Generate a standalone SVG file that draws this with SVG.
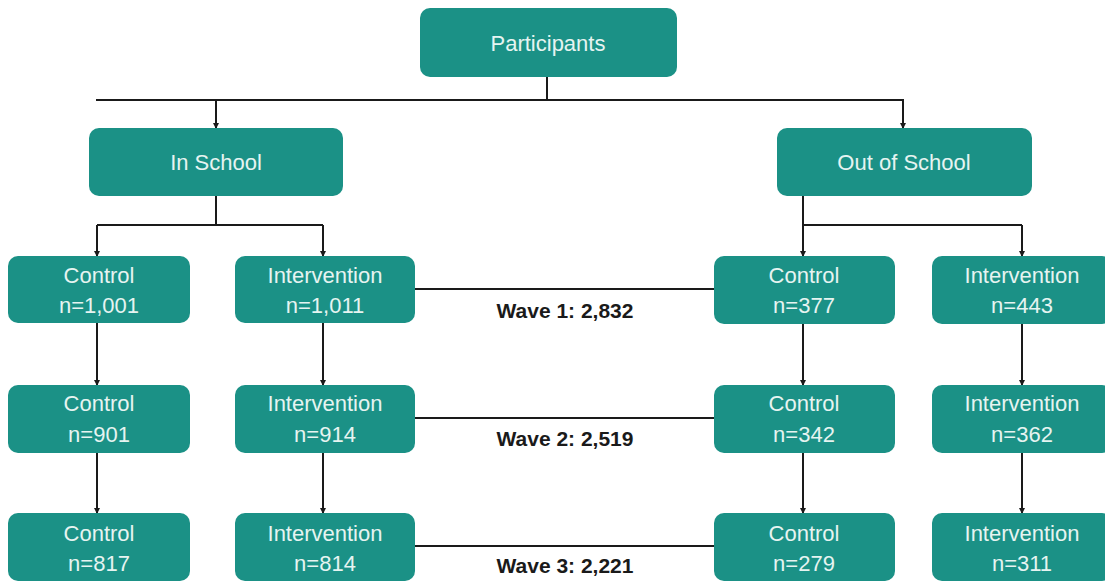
<svg xmlns="http://www.w3.org/2000/svg" width="1105" height="582" viewBox="0 0 1105 582">
<defs>
<style>
.box{fill:#1b9186;}
.t{font-family:"Liberation Sans",Arial,sans-serif;font-size:22px;fill:#e6f4f1;text-anchor:middle;dominant-baseline:central;}
.w{font-family:"Liberation Sans",Arial,sans-serif;font-size:21px;font-weight:bold;fill:#1a1a1a;text-anchor:middle;dominant-baseline:central;}
.c{fill:none;stroke:#1a1a1a;stroke-width:2;}
</style>
<marker id="ah" markerWidth="6" markerHeight="6" refX="5" refY="3" orient="auto" markerUnits="userSpaceOnUse">
<path d="M0,0 L6,3 L0,6 Z" fill="#1a1a1a"/>
</marker>
</defs>
<rect width="1105" height="582" fill="#ffffff"/>
<g id="connectors">
<path class="c" d="M547,77 V100"/>
<path class="c" d="M96,100 H904" />
<path class="c" d="M216,100 V128" marker-end="url(#ah)"/>
<path class="c" d="M903,100 V128" marker-end="url(#ah)"/>
<path class="c" d="M216,196 V225 M97,225 H323 M803,196 V225 M803,225 H1022"/>
<path class="c" d="M97,225 V256" marker-end="url(#ah)"/>
<path class="c" d="M323,225 V256" marker-end="url(#ah)"/>
<path class="c" d="M803,225 V256" marker-end="url(#ah)"/>
<path class="c" d="M1022,225 V256" marker-end="url(#ah)"/>
<path class="c" d="M97,323 V385" marker-end="url(#ah)"/>
<path class="c" d="M323,323 V385" marker-end="url(#ah)"/>
<path class="c" d="M803,324 V385" marker-end="url(#ah)"/>
<path class="c" d="M1022,324 V385" marker-end="url(#ah)"/>
<path class="c" d="M97,453 V513" marker-end="url(#ah)"/>
<path class="c" d="M323,453 V513" marker-end="url(#ah)"/>
<path class="c" d="M803,453 V513" marker-end="url(#ah)"/>
<path class="c" d="M1022,453 V513" marker-end="url(#ah)"/>
<path class="c" d="M415,289 H714 M415,418 H714 M415,546 H714"/>
</g>
<g id="participants"><rect class="box" x="420" y="8" width="257" height="69" rx="10"/><text class="t" x="548" y="43">Participants</text></g>
<g id="in-school"><rect class="box" x="89" y="128" width="254" height="68" rx="10"/><text class="t" x="216" y="162">In School</text></g>
<g id="out-of-school"><rect class="box" x="777" y="128" width="255" height="68" rx="10"/><text class="t" x="904" y="162">Out of School</text></g>

<g id="is-control-1"><rect class="box" x="8" y="256" width="182" height="67" rx="10"/><text class="t" x="99" y="275">Control</text><text class="t" x="99" y="305">n=1,001</text></g>
<g id="is-intervention-1"><rect class="box" x="235" y="256" width="180" height="67" rx="10"/><text class="t" x="325" y="275">Intervention</text><text class="t" x="325" y="305">n=1,011</text></g>
<g id="os-control-1"><rect class="box" x="714" y="256" width="181" height="68" rx="10"/><text class="t" x="804" y="275">Control</text><text class="t" x="804" y="305">n=377</text></g>
<g id="os-intervention-1"><rect class="box" x="932" y="256" width="180" height="68" rx="10"/><text class="t" x="1022" y="275">Intervention</text><text class="t" x="1022" y="305">n=443</text></g>

<g id="is-control-2"><rect class="box" x="8" y="385" width="182" height="68" rx="10"/><text class="t" x="99" y="403">Control</text><text class="t" x="99" y="434">n=901</text></g>
<g id="is-intervention-2"><rect class="box" x="235" y="385" width="180" height="68" rx="10"/><text class="t" x="325" y="403">Intervention</text><text class="t" x="325" y="434">n=914</text></g>
<g id="os-control-2"><rect class="box" x="714" y="385" width="181" height="68" rx="10"/><text class="t" x="804" y="403">Control</text><text class="t" x="804" y="434">n=342</text></g>
<g id="os-intervention-2"><rect class="box" x="932" y="385" width="180" height="68" rx="10"/><text class="t" x="1022" y="403">Intervention</text><text class="t" x="1022" y="434">n=362</text></g>

<g id="is-control-3"><rect class="box" x="8" y="513" width="182" height="68" rx="10"/><text class="t" x="99" y="533">Control</text><text class="t" x="99" y="563">n=817</text></g>
<g id="is-intervention-3"><rect class="box" x="235" y="513" width="180" height="68" rx="10"/><text class="t" x="325" y="533">Intervention</text><text class="t" x="325" y="563">n=814</text></g>
<g id="os-control-3"><rect class="box" x="714" y="513" width="181" height="68" rx="10"/><text class="t" x="804" y="533">Control</text><text class="t" x="804" y="563">n=279</text></g>
<g id="os-intervention-3"><rect class="box" x="932" y="513" width="180" height="68" rx="10"/><text class="t" x="1022" y="533">Intervention</text><text class="t" x="1022" y="563">n=311</text></g>

<g id="wave-labels">
<text class="w" x="565" y="310">Wave 1: 2,832</text>
<text class="w" x="565" y="438">Wave 2: 2,519</text>
<text class="w" x="565" y="565">Wave 3: 2,221</text>
</g>
</svg>
